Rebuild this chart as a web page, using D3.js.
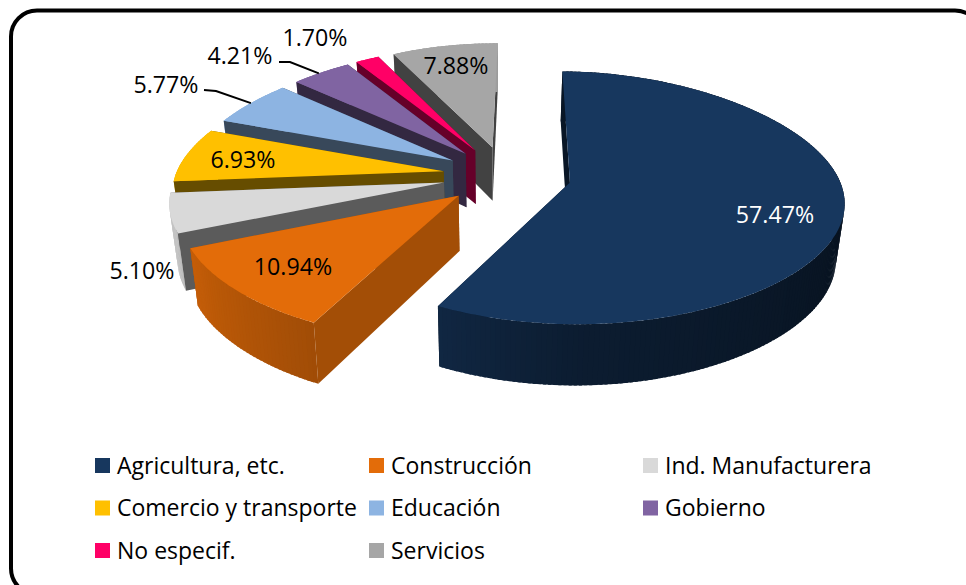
<!DOCTYPE html>
<meta charset="utf-8">
<title>pie 3d</title>
<style>
body { margin: 0; background: #fff; }
text { font-family: "Open Sans", Lato, sans-serif; }
</style>
<body>
<script src="https://d3js.org/d3.v7.min.js"></script>
<script>
var width = 966, height = 585;

var categories = ["Agricultura, etc.", "Construcción", "Ind. Manufacturera", "Comercio y transporte", "Educación", "Gobierno", "No especif.", "Servicios"];
var values = [57.47, 10.94, 5.10, 6.93, 5.77, 4.21, 1.70, 7.88];
var colors = ["#17375e", "#e36c09", "#d9d9d9", "#ffc000", "#8db4e2", "#8064a2", "#ff0066", "#a6a6a6"];
var wallShade = [0.4, 0.72, 0.42, 0.4, 0.4, 0.4, 0.4, 0.4];

var svg = d3.select("body").append("svg")
    .attr("width", width)
    .attr("height", height)
    .style("display", "block");

svg.append("rect")
    .attr("x", 11).attr("y", 10.5)
    .attr("width", 970).attr("height", 584)
    .attr("rx", 26)
    .attr("fill", "#fff")
    .attr("stroke", "#000")
    .attr("stroke-width", 4);

// fake perspective: a unit disc tilted back, bottom face pulled to a vanishing point
var cx = 507, cy = 175.3, rx = 268, ry = 122.8, persp = 0.12, explode = 0.24;

function project(X, Y, bottom) {
  // x narrows faster towards the back of the disc than it widens at the front
  var x = cx + rx * X / (1 - 0.155 * Y + 0.045 * Y * Y),
      y = cy + ry * Y / (1 - persp * Y);
  if (bottom) {
    x += (495 - x) * 0.025;
    y += 53 + 0.045 * (y - 142);
  }
  return [x, y];
}

var rotation = 0.7 * Math.PI / 180;
var pie = d3.pie().sort(null).startAngle(rotation).endAngle(2 * Math.PI + rotation);
var slices = pie(values).map(function(d, i) {
  d.i = i;
  d.mid = (d.startAngle + d.endAngle) / 2;
  d.ox = explode * Math.sin(d.mid);
  d.oy = -explode * Math.cos(d.mid);
  return d;
});

function point(d, a, r, bottom) {
  return project(d.ox + r * Math.sin(a), d.oy - r * Math.cos(a), bottom);
}

var line = d3.line();

// rim gets darker going from the left round to the right
var rimShade = d3.scaleLinear()
    .domain([100, 180, 210, 250, 290])
    .range([0.33, 0.52, 0.72, 0.88, 0.95])
    .clamp(true);

function shade(color, k) {
  var c = d3.rgb(color);
  return d3.rgb(c.r * k, c.g * k, c.b * k).formatHex();
}

function drawWall(g, d, a, fill) {
  g.append("path")
      .attr("d", line([point(d, a, 0), point(d, a, 1), point(d, a, 1, true), point(d, a, 0, true)]) + "Z")
      .attr("fill", fill);
}

function drawSlice(d) {
  var g = svg.append("g");
  var color = colors[d.i];
  var wall = shade(color, wallShade[d.i]);

  drawWall(g, d, d.endAngle, wall);

  // each strip runs a bit under the next one so no seams show
  var step = Math.PI / 180;
  d3.range(d.startAngle, d.endAngle, step).forEach(function(a) {
    var b = Math.min(a + step * 1.6, d.endAngle);
    g.append("path")
        .attr("d", line([point(d, a, 1), point(d, b, 1), point(d, b, 1, true), point(d, a, 1, true)]) + "Z")
        .attr("fill", shade(color, rimShade((a + step / 2) * 180 / Math.PI)));
  });

  drawWall(g, d, d.startAngle, wall);

  var top = [point(d, d.startAngle, 0)];
  d3.range(d.startAngle, d.endAngle, step).forEach(function(a) {
    top.push(point(d, a, 1));
  });
  top.push(point(d, d.endAngle, 1));
  g.append("path")
      .attr("d", line(top) + "Z")
      .attr("fill", color);
}

// back to front
[7, 6, 5, 4, 3, 2, 1, 0].forEach(function(i) { drawSlice(slices[i]); });

// leader lines run out to the rim of the slice
[[4, 0.5, [204, 90], [216, 91]], [5, 0.45, [279, 62], [290, 62]]].forEach(function(l) {
  var d = slices[l[0]];
  var a = d.startAngle + (d.endAngle - d.startAngle) * l[1];
  svg.append("path")
      .attr("d", line([l[2], l[3], point(d, a, 1)]))
      .attr("fill", "none")
      .attr("stroke", "#000")
      .attr("stroke-width", 2);
});

var labelPos = [[775, 215], [293, 267], [142, 271], [243, 160], [166, 85], [240, 56], [315, 38], [456, 66]];

svg.append("g").selectAll("text")
    .data(values)
  .enter().append("text")
    .attr("x", function(d, i) { return labelPos[i][0]; })
    .attr("y", function(d, i) { return labelPos[i][1]; })
    .attr("dy", "0.36em")
    .attr("text-anchor", "middle")
    .attr("font-size", 23.2)
    .attr("fill", function(d, i) { return i === 0 ? "#fff" : "#000"; })
    .text(function(d) { return d3.format(".2f")(d) + "%"; });

// legend
var legendX = d3.scalePoint().domain([0, 1, 2]).range([95, 643]);
var legendY = d3.scalePoint().domain([0, 1, 2]).range([465.5, 550.5]);

var legend = svg.append("g").selectAll("g")
    .data(categories)
  .enter().append("g")
    .attr("transform", function(d, i) {
      return "translate(" + legendX(i % 3) + "," + legendY(Math.floor(i / 3)) + ")";
    });

legend.append("rect")
    .attr("y", -7.5)
    .attr("width", 15)
    .attr("height", 15)
    .attr("fill", function(d, i) { return colors[i]; });

legend.append("text")
    .attr("x", 22)
    .attr("dy", "0.36em")
    .attr("font-size", 23)
    .attr("fill", "#000")
    .text(function(d) { return d; });
</script>
